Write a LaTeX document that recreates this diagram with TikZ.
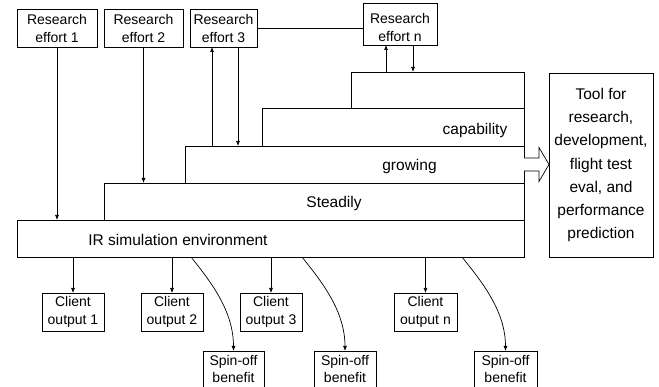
\documentclass[tikz,border=0pt]{standalone}
\usepackage{fontspec}
\setmainfont{Liberation Sans}
\usetikzlibrary{arrows.meta,calc}
\begin{document}
\begin{tikzpicture}[x=1pt,y=-1pt,
  every node/.style={inner sep=0pt, outer sep=0pt},
  box/.style={draw, line width=0.8pt, rectangle},
  smalltxt/.style={font=\fontsize{14}{18}\selectfont, align=center},
  spintxt/.style={font=\fontsize{14}{16.5}\selectfont, align=center},
  bigtxt/.style={font=\fontsize{15.5}{18}\selectfont, text height=11pt, text depth=0pt},
  conn/.style={line width=0.7pt},
  arr/.style={line width=0.7pt, -{Latex[length=5pt,width=4pt]}},
  hollow/.style={line width=0.7pt, fill=white}]
\useasboundingbox (0,0) rectangle (659,387);
\clip (0,0) rectangle (659,387);

% stair boxes
\node[box, minimum width=507pt, minimum height=37pt] (ir) at (270.5,238.5) {};
\node[box, minimum width=420pt, minimum height=37pt] (st) at (314,201.5) {};
\node[box, minimum width=339pt, minimum height=37pt] (gr) at (354.5,164.5) {};
\node[box, minimum width=262pt, minimum height=38pt] (cap) at (393,127) {};
\node[box, minimum width=173pt, minimum height=36pt] (topb) at (437.5,90) {};

\node[bigtxt] (irl) at (178,240) {IR simulation environment};
\node[bigtxt] (stl) at (334,202) {Steadily};
\node[bigtxt] (grl) at (409.5,165) {growing};
\node[bigtxt] (capl) at (475,129) {capability};

% tool box
\node[box, minimum width=104pt, minimum height=184pt, align=center,
      font=\fontsize{15.5}{23.2}\selectfont] (tool) at (601,165)
  {Tool for\\research,\\development,\\flight test\\eval, and\\performance\\prediction};

% research efforts
\node[box, smalltxt, minimum width=80pt, minimum height=38pt] (re1) at (57,28) {Research\\effort 1};
\node[box, smalltxt, minimum width=79pt, minimum height=38pt] (re2) at (143.5,28) {Research\\effort 2};
\node[box, smalltxt, minimum width=67pt, minimum height=38pt] (re3) at (223.5,28) {Research\\effort 3};
\node[box, minimum width=74pt, minimum height=42pt] (ren) at (400,24) {};
\node[smalltxt] (rentxt) at (400,27.5) {Research\\effort n};

% client outputs
\node[box, smalltxt, minimum width=62pt, minimum height=38pt] (c1) at (73,312) {Client\\output 1};
\node[box, smalltxt, minimum width=62pt, minimum height=38pt] (c2) at (172,312) {Client\\output 2};
\node[box, smalltxt, minimum width=62pt, minimum height=38pt] (c3) at (271,312) {Client\\output 3};
\node[box, smalltxt, minimum width=63pt, minimum height=38pt] (cn) at (425.5,312) {Client\\output n};

% spin-off benefits
\node[box, minimum width=61pt, minimum height=44pt] (s1) at (233.5,373) {};
\node[box, minimum width=62pt, minimum height=44pt] (s2) at (345,373) {};
\node[box, minimum width=63pt, minimum height=44pt] (s3) at (505.5,373) {};
\node[spintxt] (s1t) at (233.5,369) {Spin-off\\benefit};
\node[spintxt] (s2t) at (345,369) {Spin-off\\benefit};
\node[spintxt] (s3t) at (505.5,369) {Spin-off\\benefit};

% connectors from research efforts
\draw[conn] (re3.east) -- (re3.east -| ren.west);
\draw[arr] (re1.south) -- (re1.south |- ir.north);
\draw[arr] (re2.south) -- (re2.south |- st.north);
\coordinate (a3u) at ([xshift=22pt]re3.south west);
\coordinate (a3d) at ([xshift=48pt]re3.south west);
\draw[arr] (a3u |- gr.north) -- (a3u);
\draw[arr] (a3d) -- (a3d |- gr.north);
\coordinate (anu) at ([xshift=23pt]ren.south west);
\coordinate (and) at ([xshift=50pt]ren.south west);
\draw[arr] (anu |- topb.north) -- (anu);
\draw[arr] (and) -- (and |- topb.north);

% client arrows
\draw[arr] (c1.north |- ir.south) -- (c1.north);
\draw[arr] (c2.north |- ir.south) -- (c2.north);
\draw[arr] (c3.north |- ir.south) -- (c3.north);
\draw[arr] (cn.north |- ir.south) -- (cn.north);

% spin-off curves
\coordinate (s1a) at ([xshift=174pt]ir.south west);
\coordinate (s2a) at ([xshift=285pt]ir.south west);
\coordinate (s3a) at ([xshift=445pt]ir.south west);
\draw[arr] (s1a) .. controls +(20,25) and +(0,-40) .. (s1.north);
\draw[arr] (s2a) .. controls +(20,25) and +(0,-40) .. (s2.north);
\draw[arr] (s3a) .. controls +(20,25) and +(0,-40) .. (s3.north);

% hollow arrow to tool
\draw[hollow] ($(gr.east)+(0,-6.5)$) -- ++(15,0) -- ++(0,-10.5) -- (tool.west |- gr.east)
  -- ++(-10,17) -- ++(0,-10.5) -- ++(-15,0);
\end{tikzpicture}
\end{document}
